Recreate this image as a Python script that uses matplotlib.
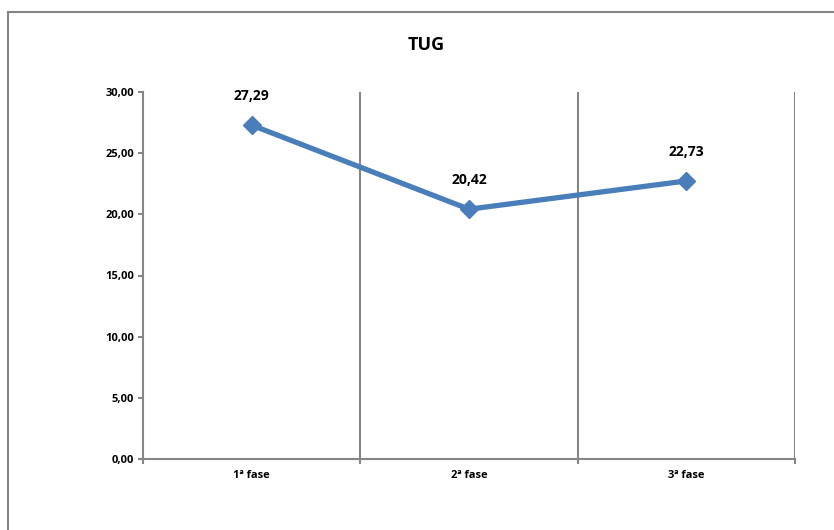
import matplotlib.pyplot as plt
from matplotlib.patches import Rectangle

plt.rcParams['font.family'] = ['Open Sans', 'DejaVu Sans']

fases = ['1ª fase', '2ª fase', '3ª fase']
tug = [27.29, 20.42, 22.73]
y_ticks = [0, 5, 10, 15, 20, 25, 30]

grey = '#868686'
blue = '#4A7EBB'

fig = plt.figure(figsize=(8.34, 5.30), dpi=100)
# moldura do gráfico (estilo Excel)
fig.patches.append(Rectangle((8 / 834, -0.1), 1.0, 1 - 12 / 530 + 0.1,
                             transform=fig.transFigure, fill=False,
                             edgecolor=grey, linewidth=1.5))

ax = fig.add_axes([143 / 834, 71 / 530, 652 / 834, 367 / 530])
x = list(range(len(fases)))
ax.plot(x, tug, color=blue, linewidth=3.8, marker='D', markersize=9.5,
        markerfacecolor=blue, markeredgecolor=blue, zorder=3)

for xi, v in zip(x, tug):
    ax.annotate(f'{v:.2f}'.replace('.', ','), (xi, v), xytext=(0, 21),
                textcoords='offset points', ha='center', va='center',
                fontsize=10, fontweight='bold')

ax.set_xlim(-0.5, len(fases) - 0.5)
ax.set_ylim(0, 30)
ax.set_yticks(y_ticks)
ax.set_yticklabels([f'{t:.2f}'.replace('.', ',') for t in y_ticks],
                   fontsize=8, fontweight='bold')
ax.set_xticks(x)
ax.set_xticklabels(fases, fontsize=8, fontweight='bold')
ax.tick_params(axis='x', length=0, pad=8)
ax.tick_params(axis='y', length=3.5, width=1.5, color=grey, pad=3)

# linhas de grade verticais nos limites das categorias
for b in [i + 0.5 for i in x]:
    ax.axvline(b, color=grey, linewidth=1.5, zorder=1)
ax.set_xticks([i - 0.5 for i in range(len(fases) + 1)], minor=True)
ax.tick_params(axis='x', which='minor', length=3.5, width=1.5, color=grey)

for s in ['top', 'right']:
    ax.spines[s].set_visible(False)
for s in ['left', 'bottom']:
    ax.spines[s].set_color(grey)
    ax.spines[s].set_linewidth(1.5)

fig.text(426 / 834, 1 - 45 / 530, 'TUG', ha='center', va='center',
         fontsize=13, fontweight='bold')

fig.savefig('out.png', dpi=100)
